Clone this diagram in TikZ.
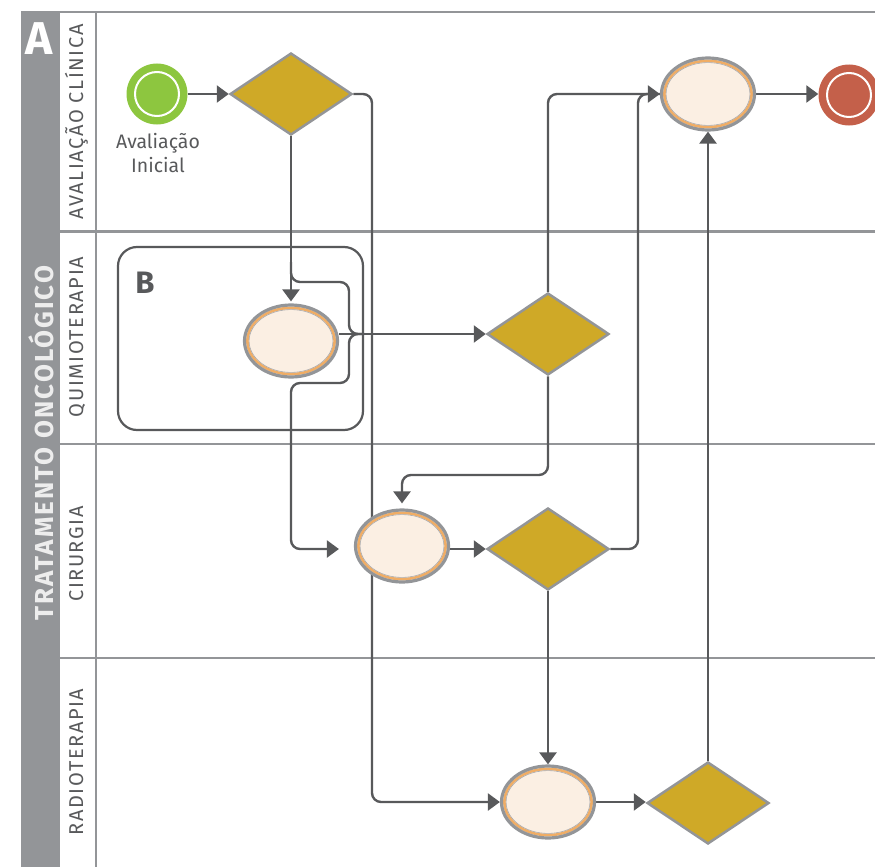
\documentclass[tikz,border=0pt]{standalone}
\usepackage{fontspec}
\setmainfont{Fira Sans}
\newfontfamily\lanefont[LetterSpace=8]{Fira Sans}
\newfontfamily\poolfont[LetterSpace=8]{Fira Sans Bold}
\usetikzlibrary{shapes.geometric,arrows.meta,calc}

\definecolor{poolgray}{HTML}{939598}
\definecolor{ink}{HTML}{58595B}
\definecolor{gold}{HTML}{CFA927}
\definecolor{cream}{HTML}{FBEFE3}
\definecolor{peach}{HTML}{F0AD65}
\definecolor{startgreen}{HTML}{8DC63F}
\definecolor{endred}{HTML}{C4604A}
\definecolor{poolname}{HTML}{EDEDED}

\pgfdeclarelayer{lanes}
\pgfdeclarelayer{flows}
\pgfsetlayers{lanes,flows,main}

\begin{document}
\begin{tikzpicture}[x=1pt,y=-1pt,
  lane/.style={draw=poolgray, line width=2.2pt},
  lanelabel/.style={rotate=90, anchor=base, text=ink, inner sep=0pt,
    font=\lanefont\fontsize{20}{20}\selectfont},
  gateway/.style={diamond, draw=poolgray, line width=2.5pt, fill=gold,
    minimum width=122pt, minimum height=82pt, inner sep=0pt},
  task/.style={ellipse, draw=poolgray, line width=3.2pt, fill=cream,
    minimum width=93pt, minimum height=72pt, inner sep=0pt,
    path picture={
      \draw[peach, line width=2.6pt] (path picture bounding box.center)
        ellipse [x radius=43.6pt, y radius=33.1pt];
      \draw[poolgray!80, line width=0.6pt] (path picture bounding box.center)
        ellipse [x radius=41.9pt, y radius=31.4pt];}},
  event/.style={circle, minimum size=61pt, inner sep=0pt,
    path picture={\draw[white, line width=2pt] (path picture bounding box.center)
      circle [radius=22pt];}},
  flow/.style={draw=ink, line width=2.4pt, rounded corners=9pt},
  arr/.style={-{Triangle[length=12pt,width=17pt]}}
]
\useasboundingbox (0,0) rectangle (875,867);

% pool and lanes
\begin{pgfonlayer}{lanes}
  \fill[poolgray] (21,11) rectangle (60,867);
  \draw[lane] (21,12) -- (875,12);
  \draw[lane] (96,12) -- (96,867);
  \foreach \y in {231.5,444,658}
    \draw[lane] (60,\y) -- (875,\y);
\end{pgfonlayer}

\node[text=white, inner sep=0pt, font=\bfseries\fontsize{46}{46}\selectfont]
  (poolletter) at (39,39) {A};
\node[rotate=90, text=poolname, inner sep=0pt,
  font=\poolfont\fontsize{26}{26}\selectfont] (pooltitle) at (41,443)
  {TRATAMENTO ONCOLÓGICO};

\node[lanelabel] (laneA) at (83,122) {AVALIAÇÃO CLÍNICA};
\node[lanelabel] (laneQ) at (83,337) {QUIMIOTERAPIA};
\node[lanelabel] (laneC) at (83,554) {CIRURGIA};
\node[lanelabel] (laneR) at (83,762) {RADIOTERAPIA};

% sub-process frame
\draw[ink, line width=2.2pt, rounded corners=19pt] (118,247) rectangle (363,430);
\node[text=ink, inner sep=0pt, font=\bfseries\fontsize{31}{31}\selectfont]
  (framelabel) at (145,283) {B};

% events, tasks and gateways
\node[event, fill=startgreen] (start) at (157,94) {};
\node[text=ink, align=center, inner sep=0pt,
  font=\fontsize{19.5}{24}\selectfont] (startlabel) at (158,153)
  {Avaliação\\Inicial};
\node[gateway] (d1) at (291,94) {};
\node[task] (tq) at (291,341) {};
\node[gateway] (d2) at (548,334) {};
\node[task] (tc) at (402,546) {};
\node[gateway] (d3) at (548,549) {};
\node[task] (ta) at (708,94) {};
\node[event, fill=endred] (end) at (849,95) {};
\node[task] (tr) at (548,802) {};
\node[gateway] (d4) at (708,803) {};

\coordinate (bracetip) at (364,334);

% sequence flows
\begin{pgfonlayer}{flows}
  \draw[flow, arr] (start.east) -- (d1.west);
  \draw[flow, arr, shorten >=2pt] (d1.south) -- (tq.north);
  \draw[flow] (291,262) -- (291,282) -- (349,282) -- (349,334) -- (bracetip);
  \draw[flow, arr] (tq.east |- d2.west) -- (d2.west);
  \draw[flow, arr] (bracetip) -- (349,334) -- (349,383) -- (291,383)
    -- (291,549) -- ($(tc.west |- d3.west)+(-15,0)$);
  \draw[flow, arr] (d1.east) -- (372,94) |- (tr.west);
  \draw[flow, arr, shorten >=5pt] (d2.south) -- (548,475) -- (402,475) -- (tc.north);
  \draw[flow, arr] (d2.north) |- (ta.west);
  \draw[flow] (d3.east) -- (638,549) |- (ta.west);
  \draw[flow, arr] (tc.east |- d3.west) -- (d3.west);
  \draw[flow, arr] (d3.south) -- (tr.north);
  \draw[flow, arr] (tr.east) -- (tr.east -| d4.west);
  \draw[flow, arr] (d4.north) -- (ta.south);
  \draw[flow, arr] (ta.east) -- (ta.east -| end.west);
\end{pgfonlayer}
\end{tikzpicture}
\end{document}
